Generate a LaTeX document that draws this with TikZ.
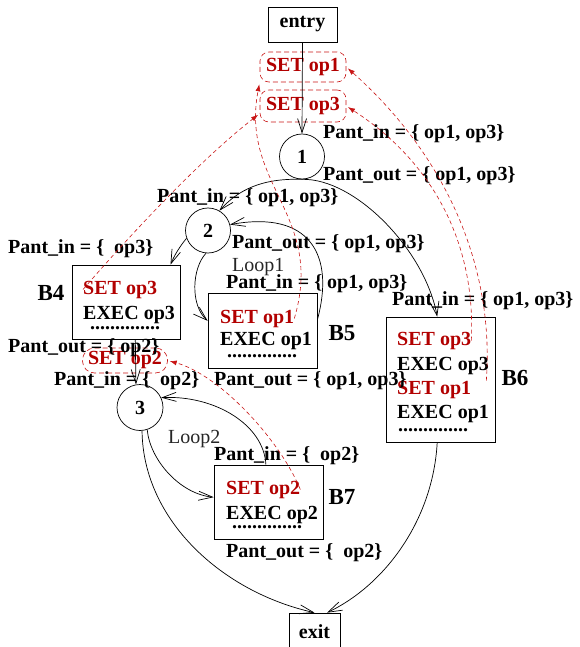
\documentclass[tikz,border=0pt]{standalone}
\usepackage{fontspec}
\setmainfont{Liberation Serif}
\usetikzlibrary{arrows.meta}
\definecolor{setred}{RGB}{178,0,0}
\definecolor{flowred}{RGB}{200,20,20}
\begin{document}
\begin{tikzpicture}[x=1pt,y=-1pt,
  every node/.style={inner sep=0pt},
  bfont/.style={font=\fontsize{20}{24}\selectfont\bfseries},
  lbl/.style={bfont, anchor=base west},
  setln/.style={lbl, text=setred},
  loopl/.style={font=\fontsize{20}{24}\selectfont, anchor=base west, text=black!85},
  blk/.style={font=\fontsize{23}{27}\selectfont\bfseries},
  bbox/.style={draw, line width=0.7pt},
  jn/.style={draw, circle, minimum size=45pt, line width=0.7pt, bfont},
  setbox/.style={draw=flowred, dash pattern=on 5pt off 3pt, rounded corners=9pt,
                 text=setred, bfont, line width=0.6pt},
  flow/.style={line width=0.7pt, -{Straight Barb[length=14pt,width=9pt]}},
  live/.style={flowred, line width=0.6pt, dash pattern=on 4pt off 3pt,
               -{Latex[length=7pt,width=5pt]}, shorten >=2pt},
]
\useasboundingbox (0,0) rectangle (579,647);

% entry / exit
\node[bbox, bfont, minimum width=69pt, minimum height=35pt] (entry) at (302.5,24.5) {entry};
\node[bbox, bfont, minimum width=51pt, minimum height=38pt] (exit) at (314.5,632) {exit};

% hoisted SET instructions
\node[setbox, minimum width=86pt, minimum height=30pt] (op1set) at (303,67) {SET op1};
\node[setbox, minimum width=86pt, minimum height=32pt] (op3set) at (303,106) {SET op3};
\node[setbox, rounded corners=12pt, minimum width=85pt, minimum height=25pt] (op2set) at (125,360.5) {SET op2};

% junction nodes
\node[jn] (c1) at (302,156.5) {1};
\node[jn] (c2) at (208,230.5) {2};
\node[jn, minimum size=46pt] (c3) at (140,407.5) {3};

% basic blocks
\node[bbox, minimum width=108pt, minimum height=74pt] (b4) at (126,302) {};
\node[bbox, minimum width=109pt, minimum height=75pt] (b5) at (262.5,330.5) {};
\node[bbox, minimum width=109pt, minimum height=125pt] (b6) at (440.5,379.5) {};
\node[bbox, minimum width=109pt, minimum height=74pt] (b7) at (268.5,502) {};

\node[blk] (b4n) at (51,293) {B4};
\node[blk] (b5n) at (342,333) {B5};
\node[blk] (b6n) at (515,378) {B6};
\node[blk] (b7n) at (342,497) {B7};

% block contents
\node[setln] (b4s) at (83,294) {SET op3};
\node[lbl] (b4e) at (83,319) {EXEC op3};
\node[lbl] (b4d) at (90,329) {..............};

\node[setln] (b5s) at (220,323) {SET op1};
\node[lbl] (b5e) at (220,345) {EXEC op1};
\node[lbl] (b5d) at (227,357) {..............};

\node[setln] (b6sa) at (397,345) {SET op3};
\node[lbl] (b6ea) at (397,370) {EXEC op3};
\node[setln] (b6sb) at (397,394) {SET op1};
\node[lbl] (b6eb) at (397,418) {EXEC op1};
\node[lbl] (b6d) at (398,431) {..............};

\node[setln] (b7s) at (226,494) {SET op2};
\node[lbl] (b7e) at (226,519) {EXEC op2};
\node[lbl] (b7d) at (232,528) {..............};

% liveness annotations
\node[lbl] (l1) at (323,139) {Pant\_in = \{ op1, op3\}};
\node[lbl] (l2) at (323,180) {Pant\_out = \{ op1, op3\}};
\node[lbl] (l3) at (157,202) {Pant\_in = \{ op1, op3\}};
\node[lbl] (l4) at (8,253) {Pant\_in = \{\ \ op3\}};
\node[lbl] (l5) at (232,248) {Pant\_out = \{ op1, op3\}};
\node[loopl] (loop1) at (232,271) {Loop1};
\node[lbl] (l6) at (226,288) {Pant\_in = \{ op1, op3\}};
\node[lbl] (l7) at (392,305) {Pant\_in = \{ op1, op3\}};
\node[lbl] (l8) at (8,352) {Pant\_out = \{ op2\}};
\node[lbl] (l9) at (54,385) {Pant\_in = \{\ \ op2\}};
\node[lbl] (l10) at (214,385) {Pant\_out = \{ op1, op3\}};
\node[loopl] (loop2) at (168,443) {Loop2};
\node[lbl] (l11) at (214,460) {Pant\_in = \{\ \ op2\}};
\node[lbl] (l12) at (226,557) {Pant\_out = \{\ \ op2\}};

% control flow
\draw[flow] (entry.south) -- (c1.north);
\draw[flow] (c1.south) .. controls (262,178) and (238,190) .. (c2.60);
\draw[flow] (c1.south) .. controls (355,178) and (425,250) .. (b6.93);
\draw[flow] (c2.200) .. controls (180,246) and (174,256) .. (b4.40);
\draw[flow] (c2.265) .. controls (192,268) and (190,305) .. (b5.170);
\draw[flow] (b5.11) .. controls (335,255) and (310,210) .. (c2.15);
\draw[flow] (b4.-76) -- (c3.100);
\draw[flow] (b7.94) .. controls (264,425) and (215,395) .. (c3.25);
\draw[flow] (c3.-72) .. controls (150,460) and (180,494) .. (b7.175);
\draw[flow] (c3.-85) .. controls (143,520) and (222,592) .. (exit.north);
\draw[flow] (b6.-93) .. controls (433,520) and (385,585) .. (exit.57);

% SET hoisting paths
\draw[live] (b4s.west) .. controls (130,235) and (200,160) .. (op3set.190);
\draw[live] (b5s.east) .. controls (325,215) and (240,185) .. (op1set.south west);
\draw[live] (b6sa.east) .. controls (476,240) and (430,160) .. (op3set.east);
\draw[live] ([xshift=15pt]b6sb.north east) .. controls (495,260) and (440,150) .. (op1set.east);
\draw[live] (b7s.east) .. controls (280,440) and (220,375) .. (op2set.east);
\end{tikzpicture}
\end{document}
